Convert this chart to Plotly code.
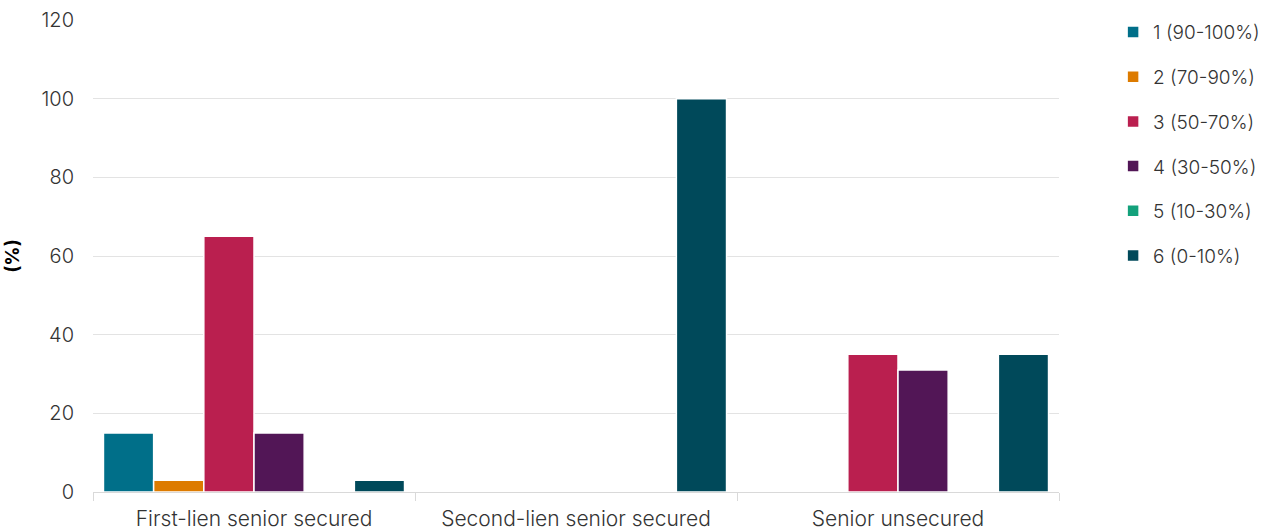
import plotly.graph_objects as go

categories = ["First-lien senior secured", "Second-lien senior secured", "Senior unsecured"]
series_names = ["1 (90-100%)", "2 (70-90%)", "3 (50-70%)", "4 (30-50%)", "5 (10-30%)", "6 (0-10%)"]
s1 = [15, None, None]
s2 = [3, None, None]
s3 = [65, None, 35]
s4 = [15, None, 31]
s5 = [None, None, None]
s6 = [3, 100, 35]
series_values = [s1, s2, s3, s4, s5, s6]
colors = ["#006F89", "#DD7B00", "#BA1F4F", "#521656", "#13A17B", "#00495A"]
y_ticks = [0, 20, 40, 60, 80, 100, 120]

FONT = "Inter"
fig = go.Figure()
for i, (name, vals, c) in enumerate(zip(series_names, series_values, colors)):
    fig.add_trace(go.Bar(
        x=categories, y=vals, name=name, legendgroup=str(i),
        marker=dict(color=c, line=dict(color="white", width=1.5)),
    ))

fig.update_layout(
    width=1262, height=531,
    margin=dict(l=93, r=203, t=20, b=39, autoexpand=False),
    plot_bgcolor="white", paper_bgcolor="white",
    barmode="group", bargap=0.065, bargroupgap=0.0,
    font=dict(family=FONT, size=20, color="#333333", weight=300),
    showlegend=True,
    legend=dict(
        x=1.056, xanchor="left", xref="paper", y=1.0145, yanchor="top",
        font=dict(size=19, color="#333333", family=FONT, weight=300),
        tracegroupgap=17, itemwidth=30, traceorder="grouped",
        bgcolor="rgba(0,0,0,0)",
    ),
    xaxis=dict(
        showgrid=False, showline=True, linecolor="#d9d9d9", linewidth=1,
        ticks="outside", tickson="boundaries", ticklen=8, tickcolor="#d9d9d9",
        ticklabelstandoff=8, automargin=False,
        tickfont=dict(size=21, color="#333333"),
    ),
    yaxis=dict(
        range=[0, 120], tickvals=y_ticks, showgrid=True, gridcolor="#e3e3e3",
        zeroline=False, showline=False, ticks="outside", ticklen=14, tickcolor="white",
        automargin=False,
        tickfont=dict(size=20, color="#333333"),
        title=dict(text="(%)", font=dict(size=19, color="#000000", weight=700), standoff=16),
    ),
)
fig.write_html("out.html")
